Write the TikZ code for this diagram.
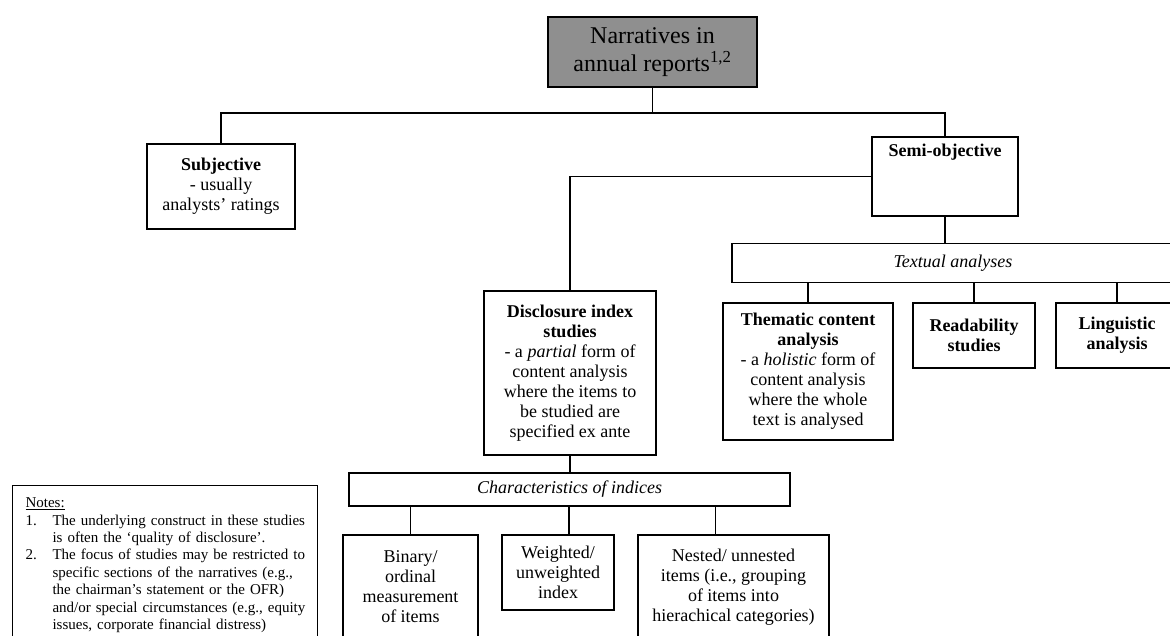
\documentclass[tikz,border=0pt]{standalone}
\usepackage{fontspec}
\setmainfont{Liberation Serif}
\usepackage{tikz}
\usepackage{xcolor}
\definecolor{rootgray}{RGB}{143,143,143}

\begin{document}
\begin{tikzpicture}[x=1pt, y=-1pt,
  box/.style={rectangle, draw, line width=1.1pt, align=center, inner sep=0pt, font=\fontsize{18}{20}\selectfont},
  link/.style={line width=1.1pt}]
\useasboundingbox (0,0) rectangle (1170,636);
\clip (0,0) rectangle (1170,636);

\node[box, fill=rootgray, minimum width=209pt, minimum height=70pt, font=\fontsize{24}{28}\selectfont] (root) at (652.5,52) {Narratives in\\annual reports\textsuperscript{1,2}};

\node[box, minimum width=148pt, minimum height=85pt] (subj) at (221,186.5) {\textbf{Subjective}\\- usually\\analysts' ratings};
\node[box, minimum width=146pt, minimum height=79pt, text depth=53pt] (semi) at (945,176.5) {\textbf{Semi-objective}};

\node[box, minimum width=172pt, minimum height=164pt] (disc) at (570,373) {\textbf{Disclosure index}\\\textbf{studies}\\- a \textit{partial} form of\\content analysis\\where the items to\\be studied are\\specified ex ante};

\node[box, minimum width=442pt, minimum height=39pt] (textual) at (953,263) {\textit{Textual analyses}};
\node[box, minimum width=170pt, minimum height=137pt] (thematic) at (808,371.5) {\textbf{Thematic content}\\\textbf{analysis}\\- a \textit{holistic} form of\\content analysis\\where the whole\\text is analysed};
\node[box, minimum width=122pt, minimum height=65pt] (read) at (974,335.5) {\textbf{Readability}\\\textbf{studies}};
\node[box, minimum width=122pt, minimum height=65pt] (ling) at (1117,335.5) {\textbf{Linguistic}\\\textbf{analysis}};

\node[box, minimum width=441pt, minimum height=33pt] (charac) at (569.5,489.5) {\textit{Characteristics of indices}};
\node[box, minimum width=135pt, minimum height=104pt] (binary) at (410.5,587) {Binary/\\ordinal\\measurement\\of items};
\node[box, minimum width=112pt, minimum height=75pt] (weighted) at (558,572.5) {Weighted/\\unweighted\\index};
\node[box, minimum width=191pt, minimum height=104pt] (nested) at (733.5,587) {Nested/ unnested\\items (i.e., grouping\\of items into\\hierachical categories)};

\node[draw, line width=1.1pt, anchor=north west, inner xsep=13pt, inner ysep=10pt, text width=279pt, align=left, font=\fontsize{15}{17.4}\selectfont] (notes) at (12,485) {%
\begin{tabular}{@{}p{27pt}@{}l@{}}
\multicolumn{2}{@{}l@{}}{\underline{Notes:}}\\
1. & The underlying construct in these studies\\
   & is often the `quality of disclosure'.\\
2. & The focus of studies may be restricted to\\
   & specific sections of the narratives (e.g.,\\
   & the chairman's statement or the OFR)\\
   & and/or special circumstances (e.g., equity\\
   & issues, corporate financial distress)
\end{tabular}};

% connectors
\coordinate (split) at (652.5,113);
\draw[link] (root.south) -- (split);
\draw[link] (subj.north) |- (split) -| (semi.north);
\draw[link] (semi.west) -| (disc.north);
\draw[link] (semi.south) -- (semi.south |- textual.north);
\draw[link] (thematic.north) -- (thematic.north |- textual.south);
\draw[link] (read.north) -- (read.north |- textual.south);
\draw[link] (ling.north) -- (ling.north |- textual.south);
\draw[link] (disc.south) -- (disc.south |- charac.north);
\draw[link] (binary.north) -- (binary.north |- charac.south);
\draw[link] ([xshift=11pt]weighted.north) -- ([xshift=11pt]weighted.north |- charac.south);
\draw[link] ([xshift=-18pt]nested.north) -- ([xshift=-18pt]nested.north |- charac.south);
\end{tikzpicture}
\end{document}
